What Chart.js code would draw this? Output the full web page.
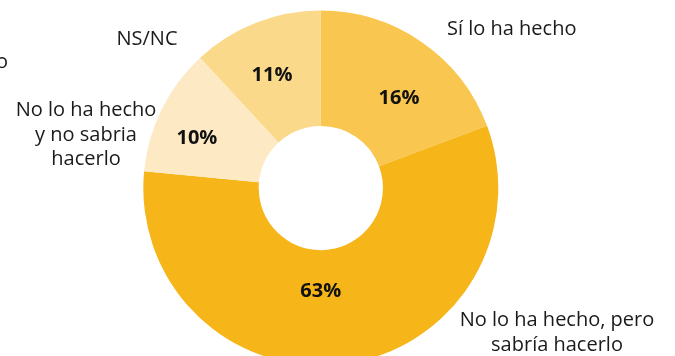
<!DOCTYPE html>
<html>
<head>
<meta charset="utf-8">
<script src="https://cdn.jsdelivr.net/npm/chart.js@4"></script>
<style>
html,body{margin:0;padding:0;background:#fff;overflow:hidden;}
canvas{display:block;}
</style>
</head>
<body>
<canvas id="donut" width="675" height="380"></canvas>
<script>
// slice sizes as drawn (angle share), printed labels as written on the chart
const categories=["Sí lo ha hecho","No lo ha hecho, pero sabría hacerlo","No lo ha hecho y no sabria hacerlo","NS/NC"];
const shares=[19.3,57.2,11.6,11.9];
const pctLabels=["16%","63%","10%","11%"];
const colors=["#F9C74F","#F6B619","#FDEAC5","#FAD98A"];

// bold % labels inside the ring, placed by [angle from top, radius]
const pctText={
id:"pctText",
afterDatasetsDraw(chart,args,opts){
const ctx=chart.ctx;
const arcs=chart.getDatasetMeta(0).data;
ctx.save();
ctx.font="bold 20px 'Open Sans'";
ctx.fillStyle="#111";
ctx.textAlign="center";
ctx.textBaseline="middle";
arcs.forEach((a,i)=>{
const p=opts.polar[i];
const t=p[0]*Math.PI/180;
ctx.fillText(pctLabels[i],a.x+p[1]*Math.sin(t),a.y-p[1]*Math.cos(t)+1);
});
ctx.restore();
}
};

// category names around the ring
const outerText={
id:"outerText",
afterDraw(chart,args,opts){
const ctx=chart.ctx;
ctx.save();
ctx.font="20px 'Open Sans'";
ctx.fillStyle="#1a1a1a";
ctx.textBaseline="alphabetic";
opts.items.forEach(it=>{
ctx.textAlign=it.align;
it.lines.forEach((l,j)=>ctx.fillText(l,it.x,it.y+j*24.5));
});
ctx.restore();
}
};

new Chart(document.getElementById("donut"),{
type:"doughnut",
data:{labels:categories,datasets:[{data:shares,backgroundColor:colors,borderWidth:0}]},
options:{
responsive:false,
animation:false,
cutout:"35%",
layout:{padding:{top:10.5,bottom:14.5,left:0,right:33.4}},
plugins:{
legend:{display:false},
tooltip:{enabled:false},
pctText:{polar:[[40.7,120],[180,102],[292.4,134],[336.8,124]]},
outerText:{items:[
{lines:["Sí lo ha hecho"],x:447,y:35,align:"left"},
{lines:["No lo ha hecho, pero","sabría hacerlo"],x:557,y:326,align:"center"},
{lines:["No lo ha hecho","y no sabria","hacerlo"],x:86,y:116,align:"center"},
{lines:["NS/NC"],x:147,y:45,align:"center"},
{lines:["hecho"],x:8,y:68,align:"right"}
]}
}
},
plugins:[pctText,outerText]
});
</script>
</body>
</html>
